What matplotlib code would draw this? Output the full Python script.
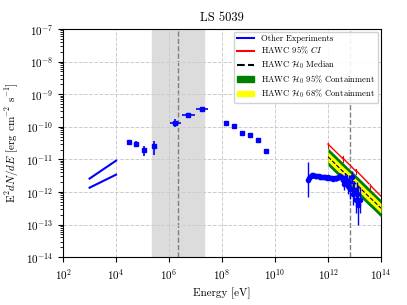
import numpy as np
import matplotlib
matplotlib.use('Agg')
import matplotlib.pyplot as plt
from matplotlib.patches import Patch
from matplotlib.lines import Line2D

plt.rcParams['font.family'] = 'serif'
plt.rcParams['font.serif'] = ['cmr10', 'DejaVu Serif']
plt.rcParams['mathtext.fontset'] = 'cm'
plt.rcParams['axes.formatter.use_mathtext'] = True
plt.rcParams['axes.unicode_minus'] = False

# log10 of energy [eV] and flux [erg cm^-2 s^-1]
# X-ray power-law bowties
xray_e = [3.0, 4.0]
xray_hi = [-11.59, -11.04]
xray_lo = [-11.87, -11.47]

# low-energy points with errors
pts_e = [4.48, 4.75, 5.06, 5.45, 6.24, 6.72, 7.25]
pts_f = [-10.47, -10.52, -10.71, -10.58, -9.87, -9.65, -9.45]
pts_f_lo = [-10.55, -10.60, -10.90, -10.87, -10.00, -9.70, -9.50]
pts_f_hi = [-10.40, -10.45, -10.60, -10.44, -9.77, -9.60, -9.40]
pts_e_lo = [4.48, 4.75, 5.06, 5.45, 6.04, 6.49, 7.02]
pts_e_hi = [4.48, 4.75, 5.06, 5.45, 6.46, 6.99, 7.47]

# Fermi-LAT points
lat_e = [8.14, 8.44, 8.75, 9.05, 9.35, 9.65]
lat_f = [-9.88, -9.98, -10.18, -10.25, -10.41, -10.74]

# TeV points
tev_e = [11.25, 11.30, 11.35, 11.40, 11.45, 11.50, 11.55, 11.60, 11.65, 11.70,
         11.75, 11.80, 11.85, 11.90, 11.95, 12.00, 12.05, 12.10, 12.15, 12.20,
         12.25, 12.30, 12.35, 12.40, 12.45, 12.50, 12.55, 12.60, 12.65, 12.70,
         12.75, 12.80, 12.85, 12.90, 12.95, 13.00, 13.05, 13.10, 13.15, 13.20]
tev_f = [-11.62, -11.58, -11.50, -11.48, -11.49, -11.50, -11.50, -11.51, -11.52, -11.53,
         -11.53, -11.54, -11.55, -11.55, -11.56, -11.55, -11.57, -11.58, -11.58, -11.59,
         -11.57, -11.58, -11.56, -11.53, -11.52, -11.55, -11.62, -11.75, -11.58, -11.70,
         -11.82, -11.68, -11.92, -11.55, -12.05, -11.95, -12.25, -12.05, -12.40, -12.25]
tev_err = [0.55, 0.06, 0.05, 0.04, 0.04, 0.04, 0.04, 0.04, 0.04, 0.04,
           0.04, 0.04, 0.04, 0.05, 0.05, 0.05, 0.05, 0.05, 0.06, 0.06,
           0.06, 0.07, 0.07, 0.08, 0.09, 0.10, 0.15, 0.20, 0.15, 0.22,
           0.25, 0.20, 0.30, 0.20, 0.35, 0.30, 0.40, 0.35, 0.60, 0.40]

# HAWC bands
hawc_e = [12.0, 12.25, 12.5, 12.75, 13.0, 13.25, 13.5, 13.75, 14.0]
hawc_med = [-10.92, -11.12, -11.32, -11.51, -11.71, -11.91, -12.11, -12.30, -12.50]
hawc_95_hi = [-10.65, -10.85, -11.05, -11.25, -11.44, -11.64, -11.84, -12.04, -12.24]
hawc_95_lo = [-11.19, -11.39, -11.59, -11.78, -11.98, -12.18, -12.38, -12.57, -12.77]
hawc_68_hi = [-10.77, -10.97, -11.17, -11.36, -11.56, -11.76, -11.96, -12.15, -12.35]
hawc_68_lo = [-11.07, -11.27, -11.47, -11.66, -11.86, -12.06, -12.26, -12.45, -12.65]
# 95% CI upper segments (start E, end E, start F, end F)
ci_e0 = [12.0, 12.55, 13.05, 13.6]
ci_e1 = [12.55, 13.05, 13.55, 14.0]
ci_f0 = [-10.53, -10.95, -11.33, -11.80]
ci_f1 = [-10.97, -11.36, -11.75, -12.13]

band_lo, band_hi = 5.35, 7.33
vline1, vline2 = 6.35, 12.82

p = lambda a: 10 ** np.asarray(a, dtype=float)

fig = plt.figure(figsize=(4.07, 3.05), dpi=100)
ax = fig.add_axes([0.155, 0.157, 0.781, 0.748])

ax.axvspan(p(band_lo), p(band_hi), color='#dcdcdc', zorder=0)
ax.axvline(p(vline1), color='grey', ls='--', lw=1, zorder=1)
ax.axvline(p(vline2), color='grey', ls='--', lw=1, zorder=1)

ax.plot(p(xray_e), p(xray_hi), color='b', lw=1.5)
ax.plot(p(xray_e), p(xray_lo), color='b', lw=1.5)

pe, pf = p(pts_e), p(pts_f)
ax.errorbar(pe, pf,
            yerr=[pf - p(pts_f_lo), p(pts_f_hi) - pf],
            xerr=[pe - p(pts_e_lo), p(pts_e_hi) - pe],
            fmt='s', color='b', ms=3, lw=1.2)
ax.plot(p(lat_e), p(lat_f), 's', color='b', ms=3)

he = p(hawc_e)
ax.fill_between(he, p(hawc_95_lo), p(hawc_95_hi), color='green', lw=0, zorder=3)
ax.fill_between(he, p(hawc_68_lo), p(hawc_68_hi), color='yellow', lw=0, zorder=4)
ax.plot(he, p(hawc_med), 'k--', lw=0.8, zorder=5)
for a0, a1, b0, b1 in zip(ci_e0, ci_e1, ci_f0, ci_f1):
    ax.plot(p([a0, a1]), p([b0, b1]), color='red', lw=1, zorder=6)
    ax.plot(p([a0, a0]), p([b0 - 0.12, b0 + 0.04]), color='red', lw=0.8, zorder=6)

te, tf = p(tev_e), p(tev_f)
terr = np.asarray(tev_err)
ax.errorbar(te, tf, yerr=[tf - p(np.asarray(tev_f) - terr), p(np.asarray(tev_f) + terr) - tf],
            fmt='o', color='b', ms=3, lw=1, zorder=7)

ax.set_xscale('log')
ax.set_yscale('log')
ax.set_xlim(1e2, 1e14)
ax.set_ylim(1e-14, 1e-7)
ax.grid(True, which='major', ls='--', color='#cccccc', lw=0.7)
ax.tick_params(labelsize=8)
ax.set_xlabel('Energy [eV]', fontsize=8)
ax.set_ylabel(r'$\mathrm{E}^2dN/dE$ [erg cm$^{-2}$ s$^{-1}$]', fontsize=8)
ax.set_title('LS 5039', fontsize=9)

handles = [Line2D([], [], color='b'),
           Line2D([], [], color='red'),
           Line2D([], [], color='k', ls='--'),
           Patch(color='green'),
           Patch(color='yellow')]
labels = ['Other Experiments', r'HAWC 95% $CI$', r'HAWC $\mathcal{H}_0$ Median',
          r'HAWC $\mathcal{H}_0$ 95% Containment', r'HAWC $\mathcal{H}_0$ 68% Containment']
ax.legend(handles, labels, loc='upper right', fontsize=6.2, framealpha=0.9,
          labelspacing=0.25, borderpad=0.35, handleheight=0.6, borderaxespad=0.3)

fig.savefig('out.png', dpi=100)
